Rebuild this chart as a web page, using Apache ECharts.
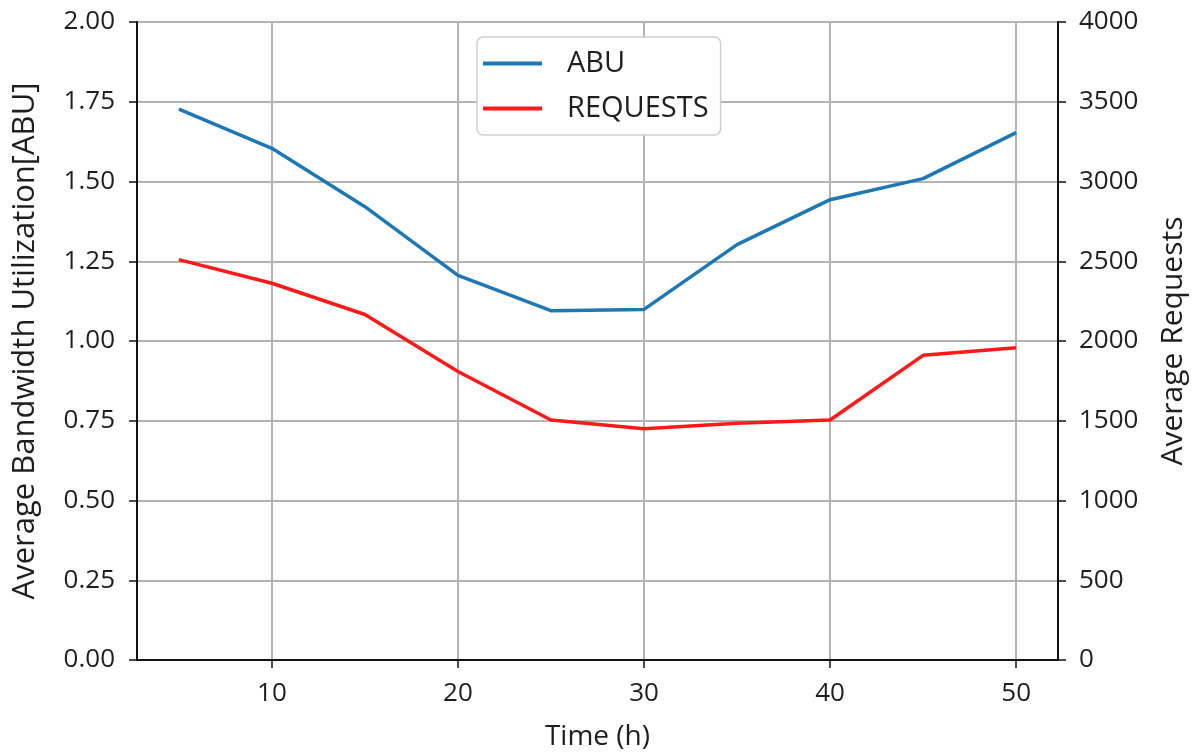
<!DOCTYPE html>
<html>
<head>
<meta charset="utf-8">
<script src="https://cdn.jsdelivr.net/npm/echarts@6/dist/echarts.min.js"></script>
<style>
html,body{margin:0;padding:0;background:#fff;}
#chart{width:1196px;height:756px;}
</style>
</head>
<body>
<div id="chart"></div>
<script>
const hours = [5, 10, 15, 20, 25, 30, 35, 40, 45, 50];
const abuValues = [1.727, 1.604, 1.421, 1.206, 1.095, 1.099, 1.302, 1.443, 1.509, 1.653];
const requestValues = [2510, 2362, 2166, 1809, 1505, 1450, 1485, 1505, 1910, 1958];
const leftTicks = ['0.00','0.25','0.50','0.75','1.00','1.25','1.50','1.75','2.00'];
const rightTicks = ['0','500','1000','1500','2000','2500','3000','3500','4000'];

const FONT = '"Open Sans", "Noto Sans", sans-serif';
const TXT = '#1e1e1e';
const chart = echarts.init(document.getElementById('chart'), null, {renderer: 'canvas'});

const abuData = hours.map((h, i) => [h, abuValues[i]]);
const reqData = hours.map((h, i) => [h, requestValues[i]]);

chart.setOption({
  backgroundColor: '#fff',
  animation: false,
  grid: {left: 137, right: 135, top: 22, bottom: 95, show: true, borderColor: '#111', borderWidth: 2, backgroundColor: 'transparent'},
  legend: {
    orient: 'vertical', left: 477, top: 37,
    padding: [12, 12, 12, 6],
    itemGap: 16, itemWidth: 59, itemHeight: 4,
    icon: 'rect',
    borderColor: '#cfcfcf', borderWidth: 1.5, borderRadius: 6,
    backgroundColor: '#fff',
    textStyle: {fontFamily: FONT, fontSize: 29, color: TXT, padding: [0, 0, 0, 20]},
    data: ['ABU', 'REQUESTS']
  },
  xAxis: {
    type: 'value', min: 2.75, max: 52.25, splitNumber: 5,
    name: 'Time (h)', nameLocation: 'middle', nameGap: 63,
    nameTextStyle: {fontFamily: FONT, fontSize: 28, color: TXT},
    axisLine: {show: true, lineStyle: {color: '#111', width: 2}},
    axisTick: {show: true, inside: false, length: 8, lineStyle: {color: '#111', width: 1.5}},
    axisLabel: {fontFamily: FONT, fontSize: 26, color: TXT, margin: 21, showMinLabel: false, showMaxLabel: false},
    splitLine: {show: true, lineStyle: {color: '#b4b4b4', width: 2}}
  },
  yAxis: [{
    type: 'value', min: 0, max: 2, interval: 0.25, position: 'left',
    name: 'Average Bandwidth Utilization[ABU]', nameLocation: 'middle', nameGap: 96,
    nameTextStyle: {fontFamily: FONT, fontSize: 31, color: TXT},
    axisLine: {show: true, lineStyle: {color: '#111', width: 2}},
    axisTick: {show: true, length: 8, lineStyle: {color: '#111', width: 1.5}},
    axisLabel: {fontFamily: FONT, fontSize: 26, color: TXT, margin: 22,
      formatter: (v) => leftTicks[Math.round(v / 0.25)]},
    splitLine: {show: true, lineStyle: {color: '#b4b4b4', width: 2}}
  }, {
    type: 'value', min: 0, max: 4000, interval: 500, position: 'right',
    name: 'Average Requests', nameLocation: 'middle', nameGap: 100,
    nameTextStyle: {fontFamily: FONT, fontSize: 30, color: TXT},
    axisLine: {show: true, lineStyle: {color: '#111', width: 2}},
    axisTick: {show: true, length: 8, lineStyle: {color: '#111', width: 1.5}},
    axisLabel: {fontFamily: FONT, fontSize: 26, color: TXT, margin: 21,
      formatter: (v) => rightTicks[Math.round(v / 500)]},
    splitLine: {show: false}
  }],
  series: [{
    name: 'ABU', type: 'line', yAxisIndex: 0, data: abuData,
    symbol: 'none', lineStyle: {color: '#1f77b4', width: 3.5}, itemStyle: {color: '#1f77b4'}
  }, {
    name: 'REQUESTS', type: 'line', yAxisIndex: 1, data: reqData,
    symbol: 'none', lineStyle: {color: '#ff1a1a', width: 3.5}, itemStyle: {color: '#ff1a1a'}
  }]
});
</script>
</body>
</html>
